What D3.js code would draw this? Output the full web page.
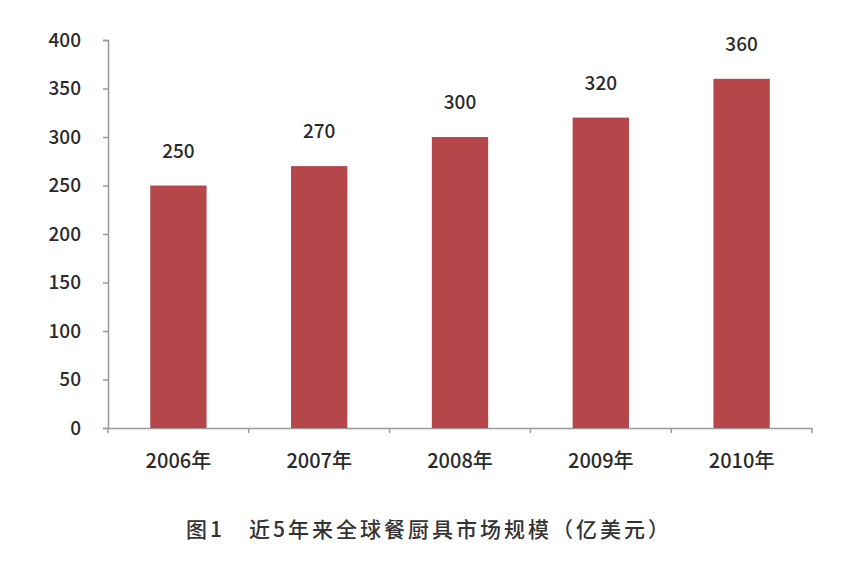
<!DOCTYPE html>
<html><head><meta charset="utf-8">
<script src="https://cdn.jsdelivr.net/npm/d3@7"></script>
<style>body{margin:0;background:#fff;} svg{display:block;}</style>
</head><body>
<svg id="c" width="850" height="563"></svg>
<script>
const categories = ["2006年","2007年","2008年","2009年","2010年"];
const values = [250,270,300,320,360];
const yTicks = [0,50,100,150,200,250,300,350,400];
const caption = "图1　近5年来全球餐厨具市场规模（亿美元）";

(function(){
const svg = d3.select("#c");
const font = "'Noto Sans CJK SC','Open Sans',sans-serif";
const mLeft = 108, mRight = 812, mTop = 40, mBottom = 428;
const x = d3.scaleBand().domain(categories).range([mLeft, mRight]).padding(0);
const y = d3.scaleLinear().domain([0,400]).range([mBottom, mTop]);
const axisColor = "#9a9a9a";
const barColor = "#b5474b";
const textColor = "#2a2a2a";

// y axis
const gy = svg.append("g").attr("transform",`translate(${mLeft},0)`)
  .call(d3.axisLeft(y).tickValues(yTicks).tickSize(5).tickPadding(22));
gy.select(".domain").attr("stroke",axisColor).attr("stroke-width",1.5);
gy.selectAll(".tick line").attr("stroke",axisColor).attr("stroke-width",1.5);
gy.selectAll(".tick text").attr("font-family",font).attr("font-size",19).attr("font-weight",500).attr("fill",textColor);

// x axis
const gx = svg.append("g").attr("transform",`translate(0,${mBottom})`)
  .call(d3.axisBottom(x).tickSize(0).tickPadding(26));
gx.select(".domain").attr("stroke",axisColor).attr("stroke-width",1.5);
gx.selectAll(".tick text").attr("font-family",font).attr("font-size",20).attr("font-weight",500).attr("fill",textColor);
const bounds = categories.map(c => x(c)).concat([x(categories[categories.length-1]) + x.bandwidth()]);
gx.selectAll(".bt").data(bounds).enter().append("line")
  .attr("x1",d=>d).attr("x2",d=>d).attr("y1",0).attr("y2",5)
  .attr("stroke",axisColor).attr("stroke-width",1.5);

// bars
const bw = x.bandwidth()*0.4;
svg.append("g").selectAll("rect").data(values).enter().append("rect")
  .attr("x",(d,i)=>x(categories[i]) + x.bandwidth()/2 - bw/2)
  .attr("y",d=>y(d)).attr("width",bw).attr("height",d=>mBottom - y(d))
  .attr("fill",barColor);

// value labels
svg.append("g").selectAll("text").data(values).enter().append("text")
  .attr("x",(d,i)=>x(categories[i]) + x.bandwidth()/2)
  .attr("y",d=>y(d) - 28)
  .attr("text-anchor","middle").attr("font-family",font).attr("font-size",19).attr("font-weight",500).attr("fill",textColor)
  .text(d=>d);

// caption
svg.append("text").attr("x",429).attr("y",537).attr("text-anchor","middle")
  .attr("font-family",font).attr("font-size",21).attr("font-weight",500).attr("letter-spacing",3)
  .attr("fill","#333").text(caption);
})();
</script>
</body></html>
